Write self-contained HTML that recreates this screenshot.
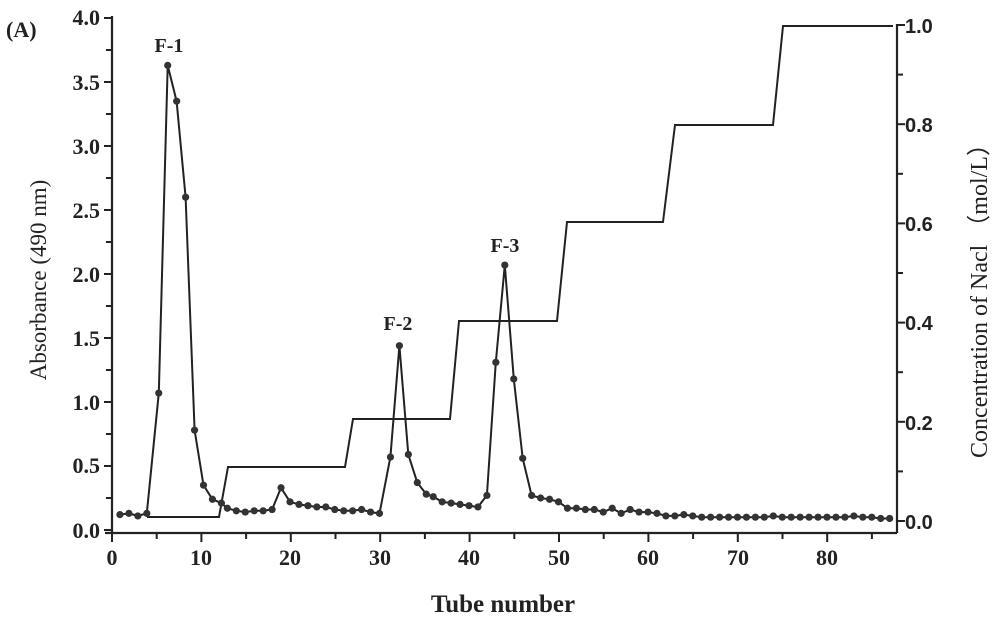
<!DOCTYPE html>
<html><head><meta charset="utf-8"><style>
html,body{margin:0;padding:0;background:#fff;width:1000px;height:623px;overflow:hidden}
svg{display:block}
.t{font-family:"Liberation Serif",serif;font-weight:bold;font-size:22px;fill:#222}
.r{font-family:"Liberation Sans",sans-serif;font-weight:bold;font-size:20px;fill:#222}
</style></head><body>
<svg id="s" width="1000" height="623" xmlns="http://www.w3.org/2000/svg">
<g stroke="#222" stroke-width="2.2" fill="none">
<line x1="112" y1="16" x2="112" y2="533"/>
<line x1="105" y1="533" x2="897" y2="533"/>
<line x1="897" y1="24" x2="897" y2="533"/>
</g>
<text x="6" y="37" class="t" font-size="22">(A)</text>
<g class="t" text-anchor="end">
<text x="100" y="25">4.0</text><text x="100" y="90">3.5</text><text x="100" y="154">3.0</text>
<text x="100" y="282">2.0</text><text x="100" y="218">2.5</text><text x="100" y="346">1.5</text>
<text x="100" y="410">1.0</text><text x="100" y="473">0.5</text><text x="100" y="538">0.0</text>
</g>
<g class="r">
<text x="905" y="33">1.0</text><text x="905" y="132">0.8</text><text x="905" y="231">0.6</text>
<text x="905" y="330">0.4</text><text x="905" y="430">0.2</text><text x="905" y="529">0.0</text>
</g>
<g class="t" text-anchor="middle">
<text x="112" y="565">0</text><text x="201" y="565">10</text><text x="290" y="565">20</text>
<text x="380" y="565">30</text><text x="469" y="565">40</text><text x="559" y="565">50</text>
<text x="648" y="565">60</text><text x="738" y="565">70</text><text x="827" y="565">80</text>
<text x="503" y="612" font-size="25">Tube number</text>
<text x="169" y="52" font-size="20">F-1</text><text x="398" y="330" font-size="20">F-2</text><text x="505" y="252" font-size="20">F-3</text>
</g>
<text class="t" transform="translate(46,280) rotate(-90)" text-anchor="middle" style="font-weight:normal;font-size:23px">Absorbance (490 nm)</text>
<text class="t" transform="translate(987,295) rotate(-90)" text-anchor="middle" style="font-weight:normal;font-size:24px">Concentration of Nacl （mol/L）</text>
<polyline fill="none" stroke="#222" stroke-width="2" points="147,517 219,517 228,467 345,467 353,419 450,419 459,321 557,321 567,222 663,222 675,125 773,125 783,26 893,26"/>
<g id="ticks" stroke="#222" stroke-width="2"></g>
<g id="d"></g>
</svg>
<script>
var v=[.12,.13,.11,.13,1.07,3.63,3.35,2.6,.78,.35,.24,.21,.17,.15,.14,.15,.15,.16,.33,.22,.2,.19,.18,.18,.16,.15,.15,.16,.14,.13,.57,1.44,.59,.37,.28,.26,.22,.21,.2,.19,.18,.27,1.31,2.07,1.18,.56,.27,.25,.24,.22,.17,.17,.16,.16,.14,.17,.13,.16,.14,.14,.13,.11,.11,.12,.11,.1,.1,.1,.1,.1,.1,.1,.1,.11,.1,.1,.1,.1,.1,.1,.1,.1,.11,.1,.1,.09,.09];
var ns="http://www.w3.org/2000/svg",s=document.getElementById('s'),d=document.getElementById('d'),pts=[];
for(var i=0;i<v.length;i++){var t=i+1,x=111+8.95*t;if(t>=5&&t<=12)x+=3;if(t>=31&&t<=35)x+=2;
var y=530-128*v[i];pts.push(x.toFixed(1)+','+y.toFixed(1));
var c=document.createElementNS(ns,'circle');c.setAttribute('cx',x);c.setAttribute('cy',y);c.setAttribute('r',3.6);c.setAttribute('fill','#333');d.appendChild(c);}
var p=document.createElementNS(ns,'polyline');p.setAttribute('points',pts.join(' '));p.setAttribute('fill','none');p.setAttribute('stroke','#222');p.setAttribute('stroke-width','2');s.insertBefore(p,d);
var tk=document.getElementById('ticks'),h='';
for(var k=0;k<=8;k++){var y=530-64*k;h+='<line x1="104" y1="'+y+'" x2="112" y2="'+y+'"/>';if(k<8)h+='<line x1="106" y1="'+(y-32)+'" x2="112" y2="'+(y-32)+'"/>';}
for(var k=0;k<=17;k++){var x=112+44.7*k;h+='<line x1="'+x+'" y1="533" x2="'+x+'" y2="'+(k%2?539:542)+'"/>';}
for(var k=0;k<=10;k++){var y=521-49.6*k;h+='<line x1="897" y1="'+y+'" x2="'+(k%2?903:905)+'" y2="'+y+'"/>';}
tk.innerHTML=h;
</script>
</body></html>
